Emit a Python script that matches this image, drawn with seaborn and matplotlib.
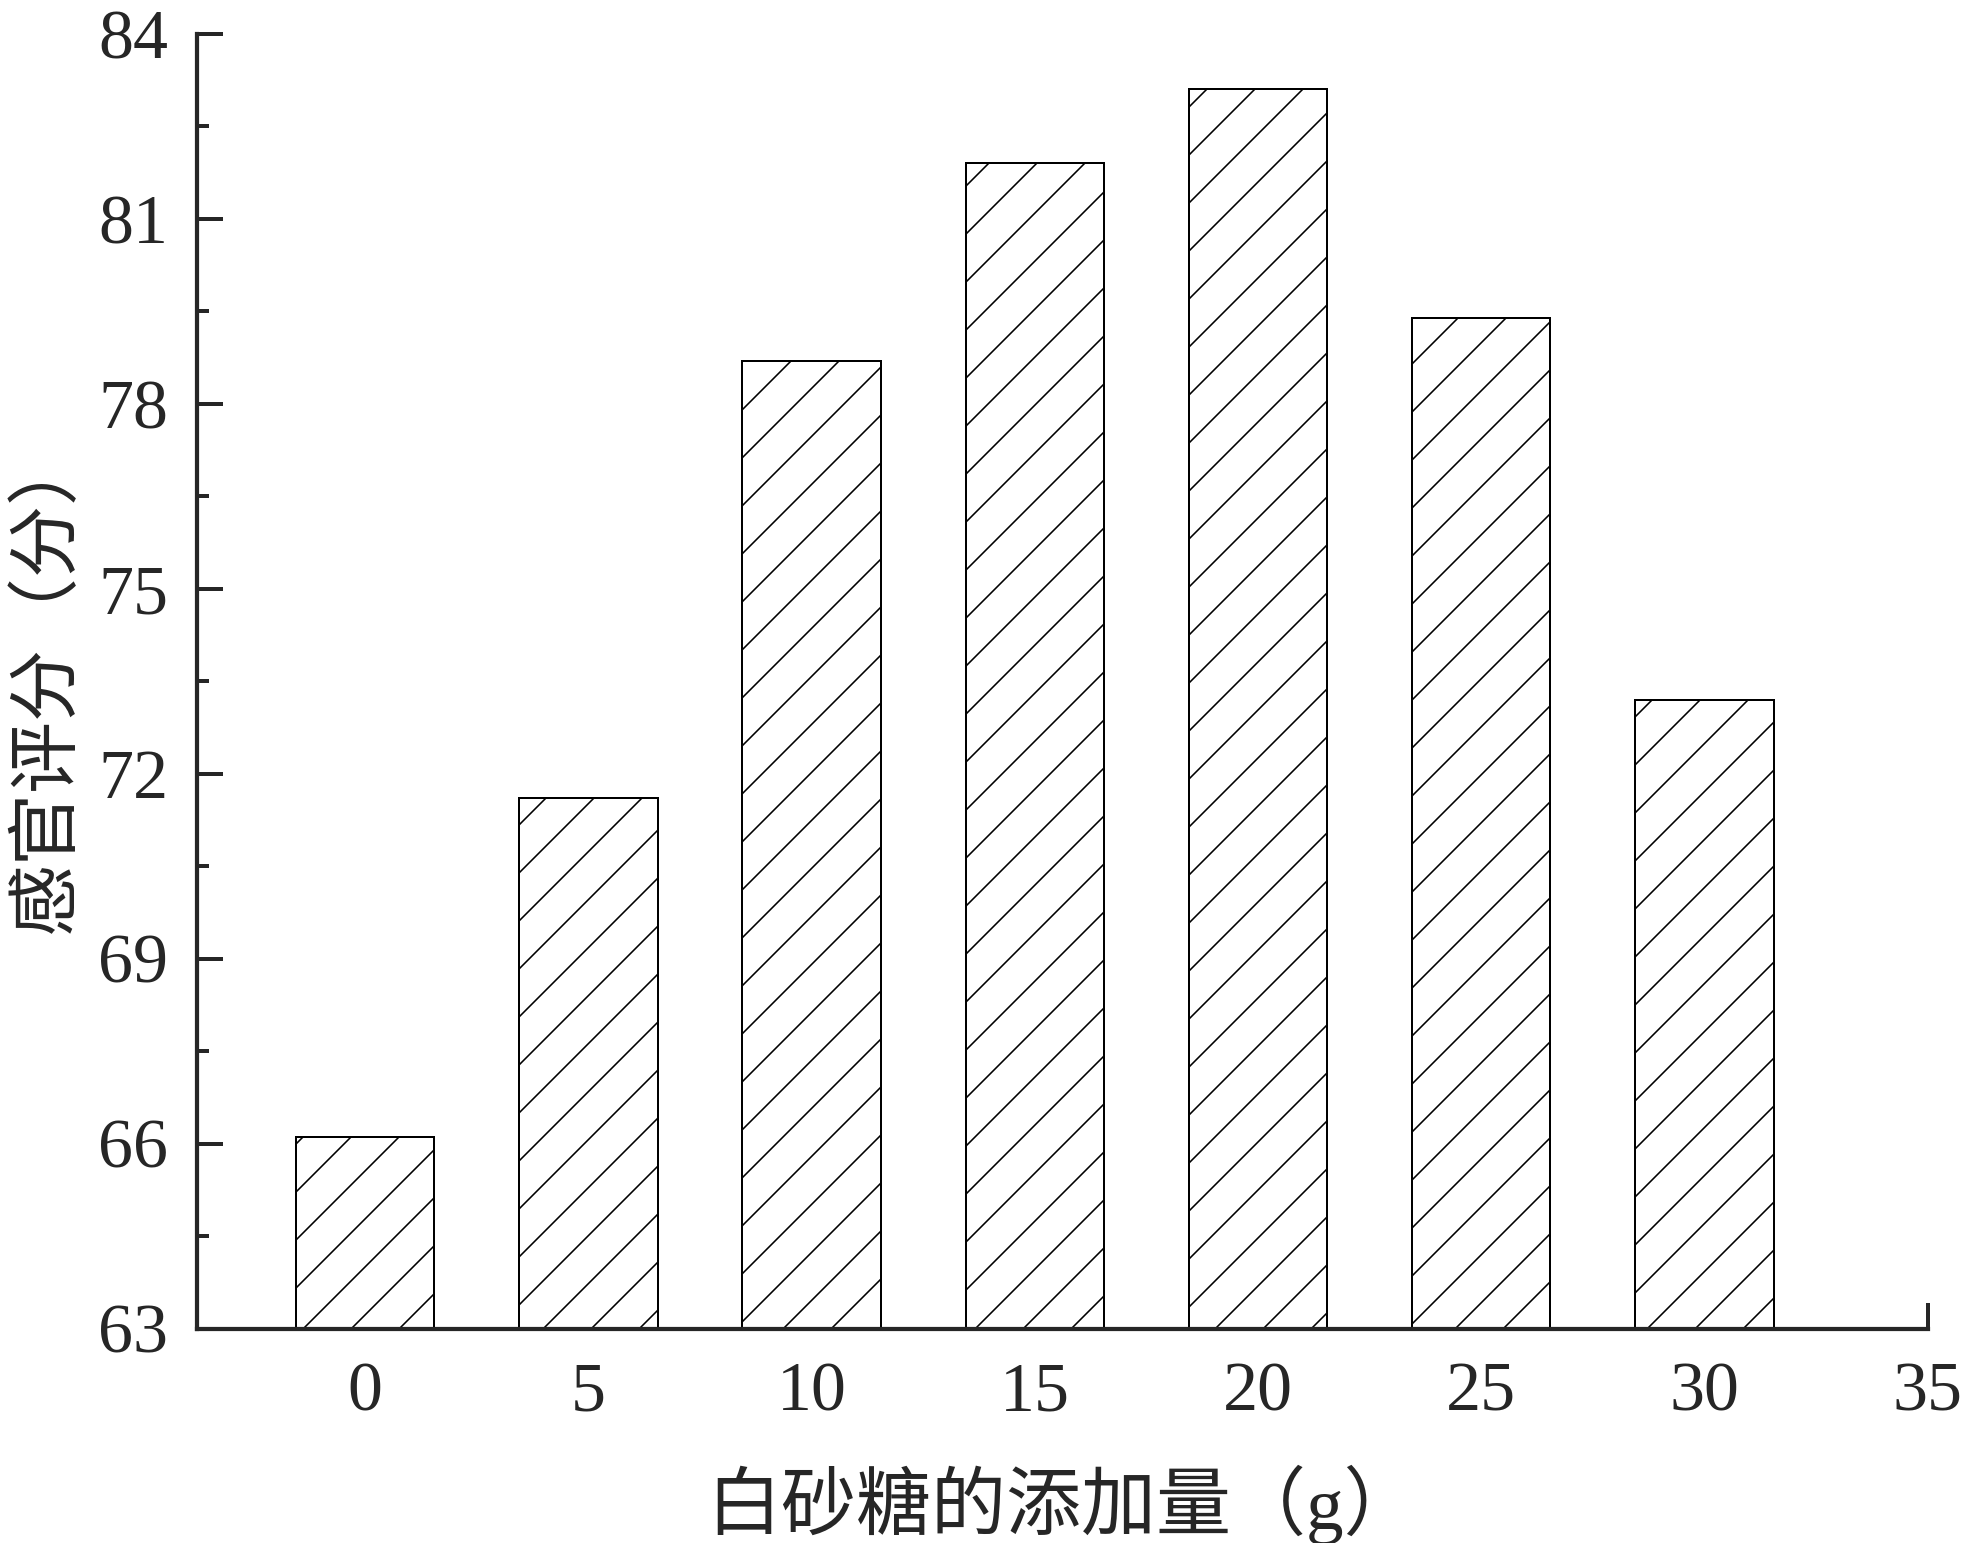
import matplotlib
matplotlib.use("Agg")
import matplotlib.pyplot as plt
import seaborn as sns
import pandas as pd
from matplotlib.ticker import MultipleLocator

# 数据
sugar = [0, 5, 10, 15, 20, 25, 30]
score = [66.1, 71.6, 78.7, 81.9, 83.1, 79.4, 73.2]
df = pd.DataFrame({"sugar": sugar, "score": score})

sns.set_style("ticks")
plt.rcParams["font.family"] = ["Liberation Serif", "Noto Sans CJK SC", "DejaVu Sans"]
plt.rcParams["hatch.linewidth"] = 0.8
plt.rcParams["hatch.color"] = "black"

DPI = 144
fig = plt.figure(figsize=(1969 / DPI, 1543 / DPI), dpi=DPI)
ax = fig.add_axes([0.1002, 0.1390, 0.8788, 0.8390])

sns.barplot(data=df, x="sugar", y="score", native_scale=True, width=0.62,
            color="white", saturation=1, edgecolor="black", linewidth=1.0, ax=ax)
for p in ax.patches:
    p.set_hatch("/")

ax.set_xlim(-3.76, 35)
ax.set_ylim(63, 84)
ax.xaxis.set_major_locator(MultipleLocator(5))
ax.yaxis.set_major_locator(MultipleLocator(3))
ax.yaxis.set_minor_locator(MultipleLocator(1.5))

sns.despine(ax=ax)
for s in ["left", "bottom"]:
    ax.spines[s].set_linewidth(2.1)

ax.tick_params(axis="both", which="major", direction="in", length=12.8, width=2.0,
               labelsize=35)
ax.tick_params(axis="x", which="major", pad=16.5)
ax.tick_params(axis="y", which="major", pad=14.5)
ax.tick_params(axis="y", which="minor", direction="in", length=6.1, width=2.0)

ax.set_xlabel("白砂糖的添加量（g）", fontsize=37.5, labelpad=20)
ax.set_ylabel("感官评分（分）", fontsize=36, labelpad=8)

fig.savefig("out.png", dpi=DPI, facecolor="white")
plt.close(fig)
